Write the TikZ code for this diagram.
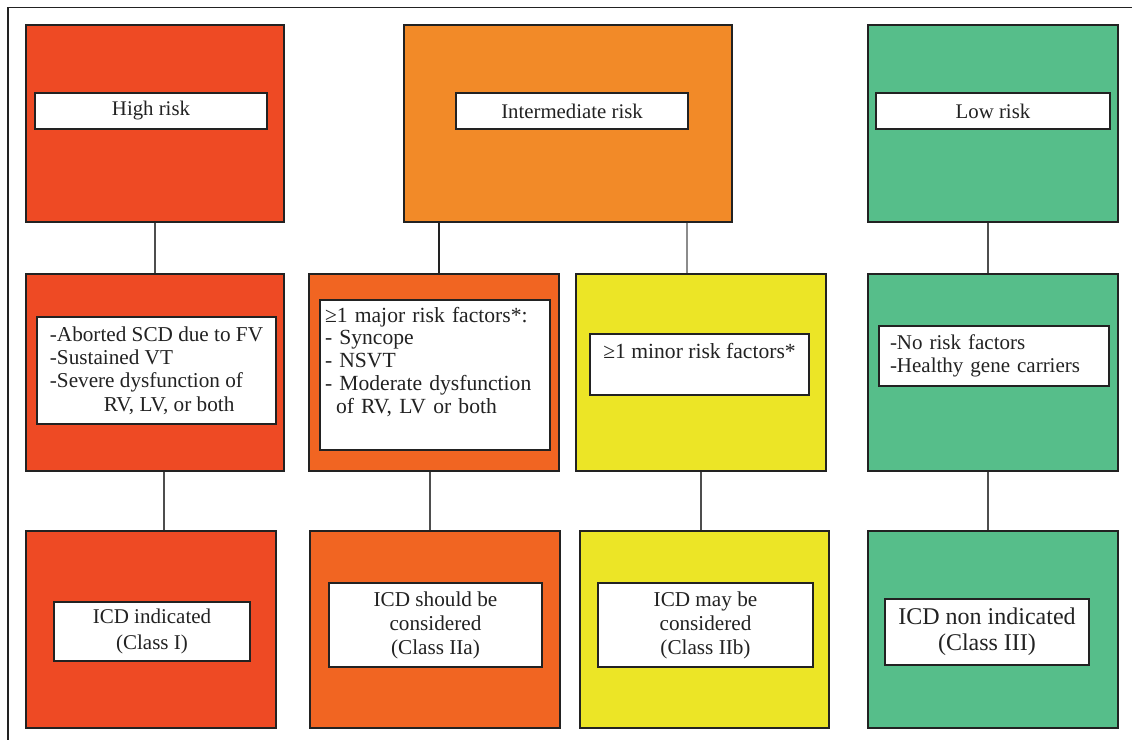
\documentclass[tikz,border=0pt]{standalone}
\usepackage{fontspec}
\setmainfont{Liberation Serif}
\usepackage{xcolor}
\definecolor{highred}{RGB}{238,74,36}
\definecolor{midorange}{RGB}{242,138,40}
\definecolor{majorange}{RGB}{241,101,34}
\definecolor{minyellow}{RGB}{236,229,38}
\definecolor{lowgreen}{RGB}{86,190,138}
\definecolor{ink}{RGB}{34,34,34}

\begin{document}
\begin{tikzpicture}[x=0.5pt,y=-0.5pt]
        \useasboundingbox (0,0) rectangle (1132,740);
        \tikzset{riskbox/.style={draw=ink,line width=0.7pt,minimum height=98.5pt,inner sep=0pt},
                 tag/.style={draw=ink,fill=white,line width=0.7pt,text=ink,inner ysep=2pt,
                             font=\fontsize{10.4}{11.6}\selectfont},
                 listtag/.style={tag,align=left,font=\fontsize{10.6}{11.6}\selectfont},
                 classtag/.style={tag,align=center,font=\fontsize{10.6}{12}\selectfont},
                 link/.style={ink!80,line width=0.55pt}}
        \draw[ink,line width=0.6pt] (1132,7.5) -- (8,7.5) -- (8,740);
        % top row
        \node[riskbox,fill=highred,minimum width=129pt] (HR) at (155,123.5) {};
        \node[riskbox,fill=midorange,minimum width=164pt] (IR) at (568,123.5) {};
        \node[riskbox,fill=lowgreen,minimum width=125pt] (LR) at (993,123.5) {};
        \node[tag,minimum width=116pt,minimum height=18pt] (HRt) at (151,111) {High risk};
        \node[tag,minimum width=116pt,minimum height=18pt] (IRt) at (572,111) {Intermediate risk};
        \node[tag,minimum width=117pt,minimum height=18pt] (LRt) at (993,111) {Low risk};
        % middle row
        \node[riskbox,fill=highred,minimum width=129pt] (HM) at (155,372.5) {};
        \node[riskbox,fill=majorange,minimum width=125pt] (Maj) at (434,372.5) {};
        \node[riskbox,fill=minyellow,minimum width=125pt] (Min) at (701,372.5) {};
        \node[riskbox,fill=lowgreen,minimum width=125pt] (LM) at (993,372.5) {};
        \node[listtag,minimum width=119.5pt,minimum height=53.5pt] (HMt) at (156.5,370.5)
            {-Aborted SCD due to FV\\-Sustained VT\\-Severe dysfunction of\\\hspace*{27pt}RV, LV, or both};
        \node[listtag,font=\fontsize{10.8}{11.4}\selectfont,inner xsep=2.5pt,inner ysep=3.5pt,text width=110pt,minimum height=75pt,text depth=60.5pt] (Majt) at (435,375)
            {≥1 major risk factors*:\\- Syncope\\- NSVT\\- Moderate dysfunction\\\hspace*{5.5pt}of RV, LV or both};
        \node[listtag,font=\fontsize{10.8}{11.4}\selectfont,inner ysep=4.5pt,minimum width=109.5pt,minimum height=30.5pt,text depth=14pt] (Mint) at (699.5,364.5)
            {≥1 minor risk factors*};
        \node[listtag,font=\fontsize{10.5}{11.6}\selectfont,inner xsep=5.5pt,text width=104pt,minimum height=30pt] (LMt) at (994,356)
            {-No risk factors\\-Healthy gene carriers};
        % bottom row
        \node[riskbox,fill=highred,minimum width=125pt] (HB) at (151,629.5) {};
        \node[riskbox,fill=majorange,minimum width=125pt] (IaB) at (435,629.5) {};
        \node[riskbox,fill=minyellow,minimum width=124.5pt] (IbB) at (704.5,629.5) {};
        \node[riskbox,fill=lowgreen,minimum width=125pt] (LB) at (993,629.5) {};
        \node[classtag,font=\fontsize{10.5}{12.6}\selectfont,minimum width=98pt,minimum height=29.5pt] (HBt) at (152,631.5) {ICD indicated\\(Class I)};
        \node[classtag,minimum width=106.5pt,minimum height=42pt] (IaBt) at (435.5,625) {ICD should be\\considered\\(Class IIa)};
        \node[classtag,minimum width=107.5pt,minimum height=42pt] (IbBt) at (705.5,625) {ICD may be\\considered\\(Class IIb)};
        \node[classtag,font=\fontsize{12}{12.8}\selectfont,minimum width=102pt,minimum height=33pt] (LBt) at (987,632) {ICD non indicated\\(Class III)};
        % links
        \draw[link] (HR) -- (HM);
        \draw[link] ([xshift=4.5pt]HM.south) -- ([xshift=4.5pt]HM.south |- HB.north);
        \draw[link,ink,line width=1pt] ([xshift=2.5pt]Maj.north |- IR.south) -- ([xshift=2.5pt]Maj.north);
        \draw[link,black!45] ([xshift=-7pt]Min.north |- IR.south) -- ([xshift=-7pt]Min.north);
        \draw[link] ([xshift=-2pt]Maj.south) -- ([xshift=-2pt]Maj.south |- IaB.north);
        \draw[link] (Min.south) -- (Min.south |- IbB.north);
        \draw[link] ([xshift=-2.5pt]LR.south) -- ([xshift=-2.5pt]LM.north);
        \draw[link] ([xshift=-2.5pt]LM.south) -- ([xshift=-2.5pt]LB.north);
\end{tikzpicture}
\end{document}
